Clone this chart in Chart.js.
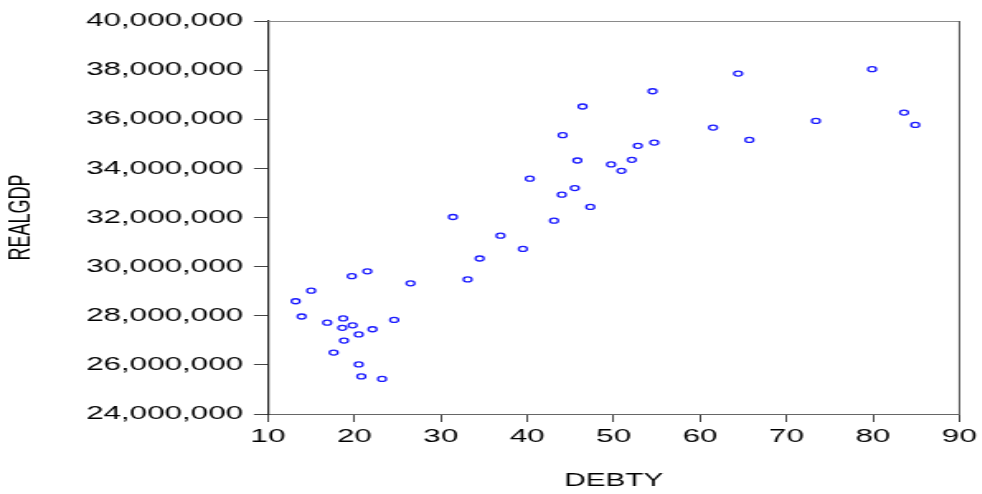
<!DOCTYPE html>
<html>
<head>
<meta charset="utf-8">
<style>
  html, body { margin: 0; padding: 0; background: #fff; overflow: hidden; }
  #wrap { position: absolute; left: 0; top: 0; width: 595px; height: 494px; transform: scaleX(1.65); transform-origin: 0 0; }
</style>
</head>
<body>
<div id="wrap"><canvas id="scatter" width="595" height="494"></canvas></div>
<script src="https://cdn.jsdelivr.net/npm/chart.js"></script>
<script>
// DEBTY (x) against REALGDP (y)
const debty = [
  21.5, 19.7, 26.5, 15.0, 13.2, 13.9, 24.6, 18.7, 16.85, 18.6, 19.8, 22.1, 20.5, 18.8, 17.6, 20.5, 20.8, 23.2,
  46.4, 44.1, 45.8, 40.3, 45.5, 44.0, 47.3, 31.4, 43.1, 36.9, 39.5, 34.5, 33.1,
  54.5, 64.4, 79.9, 83.6, 84.9, 73.4, 61.5, 65.7, 54.7, 52.8, 52.1, 49.7, 50.9
];
const realGdp = [
  29810000, 29610000, 29320000, 29020000, 28590000, 27970000, 27830000, 27890000, 27720000, 27510000, 27610000, 27450000, 27240000, 26990000, 26500000, 26020000, 25530000, 25430000,
  36520000, 35350000, 34320000, 33580000, 33200000, 32930000, 32430000, 32020000, 31870000, 31260000, 30720000, 30330000, 29480000,
  37140000, 37860000, 38040000, 36270000, 35770000, 35930000, 35660000, 35160000, 35050000, 34920000, 34350000, 34160000, 33900000
];
const xTicks = [10, 20, 30, 40, 50, 60, 70, 80, 90];
const yTicks = [24000000, 26000000, 28000000, 30000000, 32000000, 34000000, 36000000, 38000000, 40000000];

const points = debty.map((x, i) => ({ x: x, y: realGdp[i] }));

const tickFont = { family: '"Liberation Sans", Arial, sans-serif', size: 19 };
const titleFont = { family: '"Liberation Sans", Arial, sans-serif', size: 18 };

// top and right edges of the plot box
const frame = {
  id: 'frame',
  afterDraw(chart) {
    const { ctx, chartArea: a } = chart;
    ctx.save();
    ctx.lineWidth = 1;
    ctx.strokeStyle = '#8a8a8a';
    ctx.beginPath();
    ctx.moveTo(a.left, a.top + 0.5);
    ctx.lineTo(a.right, a.top + 0.5);
    ctx.stroke();
    ctx.strokeStyle = '#555';
    ctx.beginPath();
    ctx.moveTo(a.right, a.top);
    ctx.lineTo(a.right, a.bottom);
    ctx.stroke();
    ctx.restore();
  }
};

new Chart(document.getElementById('scatter'), {
  type: 'scatter',
  data: {
    datasets: [{
      label: 'REALGDP',
      data: points,
      pointStyle: 'circle',
      pointRadius: 2.5,
      pointBorderWidth: 1.3,
      borderColor: '#1a1aff',
      backgroundColor: 'rgba(0,0,0,0)'
    }]
  },
  options: {
    responsive: false,
    animation: false,
    layout: { padding: { top: 21, right: 11, left: 0, bottom: 0 } },
    plugins: { legend: { display: false }, tooltip: { enabled: false } },
    scales: {
      x: {
        type: 'linear',
        min: xTicks[0],
        max: xTicks[xTicks.length - 1],
        afterBuildTicks: s => { s.ticks = xTicks.map(v => ({ value: v })); },
        afterFit: s => { s.height = 80; },
        grid: { drawOnChartArea: false, drawTicks: true, tickLength: 8, color: '#444' },
        border: { display: true, color: '#666', width: 1 },
        ticks: { color: '#000', font: tickFont, padding: 3, maxRotation: 0 },
        title: { display: true, text: 'DEBTY', color: '#000', font: titleFont, padding: { top: 0, bottom: 2 } }
      },
      y: {
        type: 'linear',
        min: yTicks[0],
        max: yTicks[yTicks.length - 1],
        afterBuildTicks: s => { s.ticks = yTicks.map(v => ({ value: v })); },
        afterFit: s => { s.width = 162.4; },
        grid: { drawOnChartArea: false, drawTicks: true, tickLength: 8.5, color: '#444' },
        border: { display: true, color: '#222', width: 1.2 },
        ticks: { color: '#000', font: tickFont, padding: 6.6, callback: v => v.toLocaleString('en-US') },
        title: { display: true, text: 'REALGDP', color: '#000', font: titleFont, padding: { top: 2.5, bottom: 0 } }
      }
    }
  },
  plugins: [frame]
});
</script>
</body>
</html>
